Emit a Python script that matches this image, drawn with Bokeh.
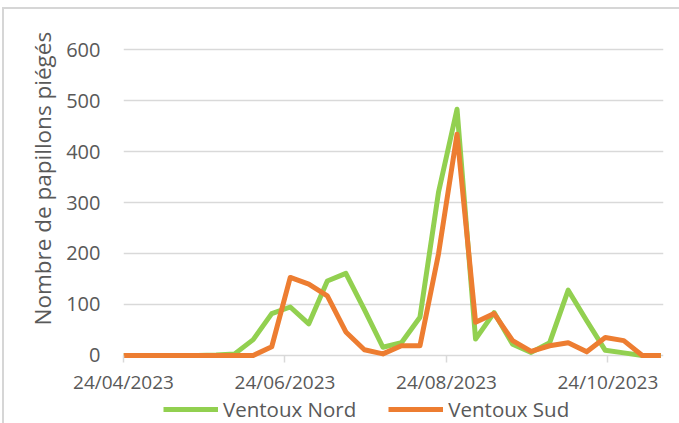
import pandas as pd
from bokeh.plotting import figure
from bokeh.layouts import column
from bokeh.models import (Range1d, FixedTicker, DatetimeTickFormatter, Legend, LegendItem, Title)
from bokeh.embed import file_html
from bokeh.resources import INLINE

# ---- data ----
dates = ["2023-04-24", "2023-05-01", "2023-05-08", "2023-05-15", "2023-05-22", "2023-05-29",
         "2023-06-05", "2023-06-12", "2023-06-19", "2023-06-26", "2023-07-03", "2023-07-10",
         "2023-07-17", "2023-07-24", "2023-07-31", "2023-08-07", "2023-08-14", "2023-08-21",
         "2023-08-28", "2023-09-04", "2023-09-11", "2023-09-18", "2023-09-25", "2023-10-02",
         "2023-10-09", "2023-10-16", "2023-10-23", "2023-10-30", "2023-11-06", "2023-11-13"]
ventoux_nord = [0, 0, 0, 0, 0, 1, 3, 31, 82, 95, 62, 146, 161, 90, 16, 25, 75, 320, 483,
                32, 84, 22, 6, 25, 128, 68, 10, 5, 0, 0]
ventoux_sud = [0, 0, 0, 0, 0, 0, 0, 0, 17, 153, 140, 117, 46, 11, 3, 19, 19, 199, 434,
               65, 82, 29, 8, 19, 25, 7, 35, 29, 0, 0]
x_ticks = ["2023-04-24", "2023-06-24", "2023-08-24", "2023-10-24"]
x_start, x_end = "2023-04-24", "2023-11-14"
y_ticks = [0, 100, 200, 300, 400, 500, 600]
series_names = ["Ventoux Nord", "Ventoux Sud"]
colors = ["#92D050", "#ED7D31"]
y_title = "Nombre de papillons piégés"

x = pd.to_datetime(dates)
FONT = "Open Sans"
TXT = "#595959"
GRID = "#d9d9d9"
LW = 5

p = figure(width=675, height=388, x_axis_type="datetime", output_backend="svg",
           toolbar_location=None,
           x_range=Range1d(pd.Timestamp(x_start), pd.Timestamp(x_end)),
           y_range=Range1d(-8, 608),
           min_border_left=119, min_border_right=16, min_border_top=36, min_border_bottom=38)
p.outline_line_color = None
p.background_fill_color = "white"
p.border_fill_color = "white"

p.line(x, ventoux_nord, line_color=colors[0], line_width=LW, line_join="round")
p.line(x, ventoux_sud, line_color=colors[1], line_width=LW, line_join="round")

p.xgrid.grid_line_color = None
p.ygrid.grid_line_color = GRID
p.ygrid.grid_line_width = 1.5
p.ygrid.ticker = FixedTicker(ticks=y_ticks)

# x axis
xa = p.xaxis[0]
xa.ticker = FixedTicker(ticks=[pd.Timestamp(t).value / 1e6 for t in x_ticks])
xa.formatter = DatetimeTickFormatter(days="%d/%m/%Y", months="%d/%m/%Y", years="%d/%m/%Y")
xa.axis_line_color = None
xa.major_tick_line_color = GRID
xa.major_tick_line_width = 1.5
xa.major_tick_in = 4
xa.major_tick_out = 3
xa.minor_tick_line_color = None
xa.major_label_text_font = FONT
xa.major_label_text_font_size = "19px"
xa.major_label_text_color = TXT
xa.major_label_standoff = 6

# y axis
ya = p.yaxis[0]
ya.ticker = FixedTicker(ticks=y_ticks)
ya.axis_line_color = None
ya.major_tick_line_color = None
ya.minor_tick_line_color = None
ya.major_label_text_font = FONT
ya.major_label_text_font_size = "20px"
ya.major_label_text_color = TXT
ya.major_label_standoff = 17

# y title
p.add_layout(Title(text=y_title, align="left", offset=34, standoff=12,
                   text_font=FONT, text_font_size="22.5px", text_color=TXT,
                   text_font_style="normal"), "left")

# legend strip
pl = figure(width=675, height=26, output_backend="svg", toolbar_location=None,
            x_range=Range1d(0, 1), y_range=Range1d(0, 1),
            x_axis_location=None, y_axis_location=None, min_border=0)
pl.outline_line_color = None
pl.grid.grid_line_color = None
items = []
for name, c in zip(series_names, colors):
    r = pl.line([5, 6], [5, 6], line_color=c, line_width=LW)
    items.append(LegendItem(label=name, renderers=[r]))
legend = Legend(items=items, orientation="horizontal", location=(40, 0),
                label_text_font=FONT, label_text_font_size="20.5px", label_text_color=TXT,
                glyph_width=55, glyph_height=26, label_height=26, label_standoff=5,
                spacing=32, padding=0, margin=0,
                border_line_color=None, background_fill_alpha=0)
pl.add_layout(legend, "center")

layout = column(p, pl, spacing=0,
                styles={"border-top": "2px solid #d6d6d6", "border-left": "2px solid #d6d6d6",
                        "margin-top": "7px", "margin-left": "2px"})
open("out.html", "w").write(file_html(layout, INLINE))
